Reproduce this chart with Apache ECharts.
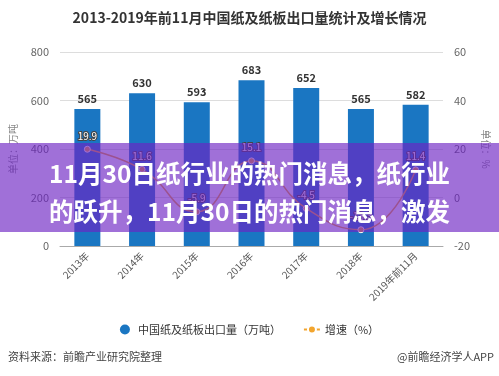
<!DOCTYPE html>
<html>
<head>
<meta charset="utf-8">
<script src="https://cdn.jsdelivr.net/npm/echarts@6/dist/echarts.min.js"></script>
<style>
html,body{margin:0;padding:0;background:#fff;}
#chart{width:499px;height:376px;}
</style>
</head>
<body>
<div id="chart"></div>
<script>
// 年份
var years = ['2013年', '2014年', '2015年', '2016年', '2017年', '2018年', '2019年前11月'];
// 出口量（万吨）
var exportVol = [565, 630, 593, 683, 652, 565, 582];
// 增速（%）
var growth = [19.9, 11.6, -5.9, 15.1, -4.5, -13.3, 11.4];
var leftTicks = [0, 200, 400, 600, 800];
var rightTicks = [-20, 0, 20, 40, 60];

var font = '"Noto Sans CJK SC", "Microsoft YaHei", sans-serif';

var chart = echarts.init(document.getElementById('chart'));

chart.setOption({
    backgroundColor: '#fff',
    textStyle: { fontFamily: font },
    title: {
        text: '2013-2019年前11月中国纸及纸板出口量统计及增长情况',
        left: 'center',
        top: 6,
        textStyle: { fontSize: 14, fontWeight: 'bold', color: '#333', fontFamily: font }
    },
    legend: {
        bottom: 36,
        left: 'center',
        itemGap: 22,
        itemWidth: 16,
        itemHeight: 10,
        textStyle: { fontSize: 11, color: '#333' },
        data: [
            { name: '中国纸及纸板出口量（万吨）', icon: 'circle' },
            { name: '增速（%）' }
        ]
    },
    grid: { left: 59, right: 55, top: 52, bottom: 130 },
    xAxis: {
        type: 'category',
        data: years,
        axisLine: { lineStyle: { color: '#aaa' } },
        axisTick: { alignWithLabel: true, length: 5, lineStyle: { color: '#aaa' } },
        axisLabel: { rotate: 45, fontSize: 10, color: '#555', margin: 8 }
    },
    yAxis: [{
        type: 'value',
        min: leftTicks[0],
        max: leftTicks[leftTicks.length - 1],
        interval: 200,
        name: '单位：万吨',
        nameLocation: 'middle',
        nameGap: 42,
        nameTextStyle: { fontSize: 10, color: '#888' },
        axisLine: { show: false },
        axisTick: { show: false },
        axisLabel: { fontSize: 11, color: '#666', margin: 11 },
        splitLine: { lineStyle: { color: '#ddd' } }
    }, {
        type: 'value',
        min: rightTicks[0],
        max: rightTicks[rightTicks.length - 1],
        interval: 20,
        name: '单位：%',
        nameLocation: 'middle',
        nameGap: 38,
        nameRotate: -90,
        nameTextStyle: { fontSize: 10, color: '#888' },
        axisLine: { show: false },
        axisTick: { show: false },
        axisLabel: { fontSize: 11, color: '#666', margin: 11 },
        splitLine: { show: false }
    }],
    series: [{
        name: '中国纸及纸板出口量（万吨）',
        type: 'bar',
        data: exportVol,
        barWidth: 26,
        itemStyle: { color: '#1a76c2' },
        label: {
            show: true,
            position: 'top',
            fontSize: 11,
            fontWeight: 'bold',
            color: '#333',
            distance: 5
        }
    }, {
        name: '增速（%）',
        type: 'line',
        yAxisIndex: 1,
        data: growth,
        smooth: true,
        symbol: 'circle',
        symbolSize: 6,
        lineStyle: { color: '#f2a52e', width: 1.5 },
        itemStyle: { color: '#f2a52e', borderColor: '#fff', borderWidth: 1 },
        label: {
            show: true,
            position: 'top',
            fontSize: 10,
            color: '#fff',
            textBorderColor: '#444',
            textBorderWidth: 2,
            distance: 5
        }
    }],
    graphic: [{
        type: 'rect',
        left: 0,
        top: 143,
        shape: { width: 499, height: 89 },
        style: { fill: 'rgba(109,35,195,0.65)' },
        z: 100
    }, {
        type: 'text',
        left: 'center',
        top: 161,
        style: {
            text: '11月30日纸行业的热门消息，纸行业',
            fontSize: 24.5,
            fontWeight: 'bold',
            fontFamily: font,
            fill: '#fff'
        },
        z: 101
    }, {
        type: 'text',
        left: 'center',
        top: 199,
        style: {
            text: '的跃升，11月30日的热门消息，激发',
            fontSize: 24.5,
            fontWeight: 'bold',
            fontFamily: font,
            fill: '#fff'
        },
        z: 101
    }, {
        type: 'text',
        left: 8,
        top: 351,
        style: { text: '资料来源：前瞻产业研究院整理', fontSize: 11, fontFamily: font, fill: '#444' }
    }, {
        type: 'text',
        right: 5,
        top: 351,
        style: { text: '@前瞻经济学人APP', fontSize: 11, fontFamily: font, fill: '#444' }
    }]
});
</script>
</body>
</html>
